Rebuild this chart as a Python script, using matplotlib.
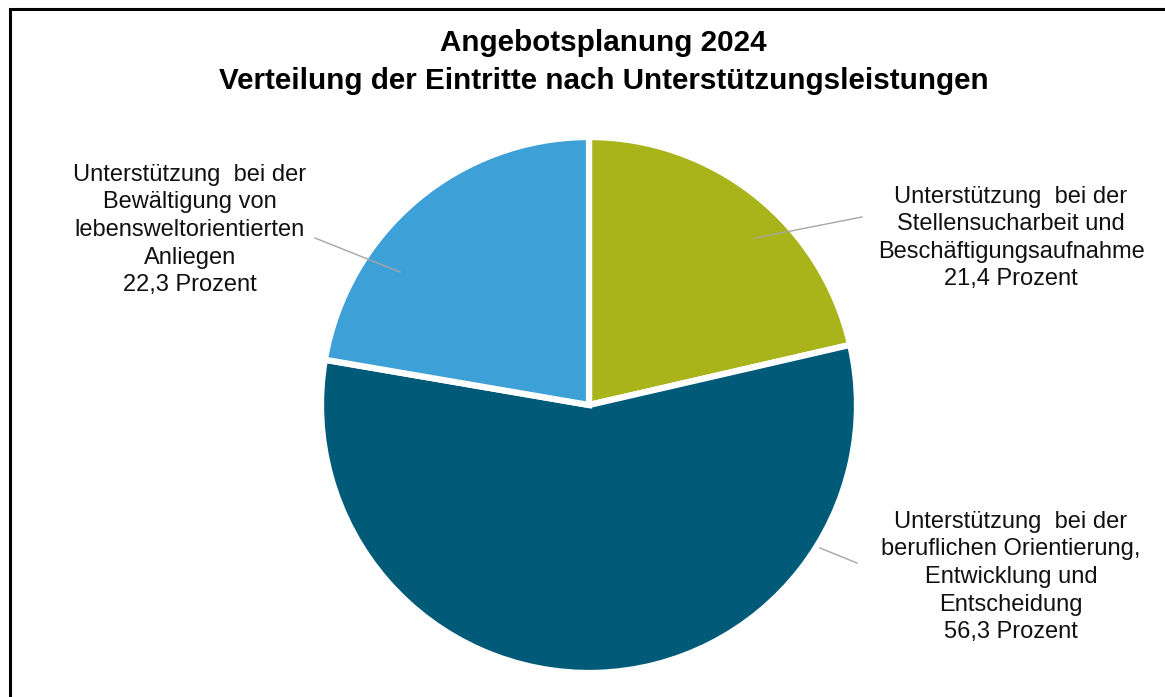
import matplotlib.pyplot as plt

# ==================== DATA ====================
CATEGORIES = [
    'Unterstützung  bei der\nStellensucharbeit und\nBeschäftigungsaufnahme',
    'Unterstützung  bei der\nberuflichen Orientierung,\nEntwicklung und\nEntscheidung',
    'Unterstützung  bei der\nBewältigung von\nlebensweltorientierten\nAnliegen',
]
SHARES = [21.4, 56.3, 22.3]
COLORS = ['#A9B41A', '#005A78', '#3DA0D7']
TITLE = 'Angebotsplanung 2024\nVerteilung der Eintritte nach Unterstützungsleistungen'

W, H = 1165, 697
plt.rcParams['font.family'] = ['Liberation Sans', 'DejaVu Sans']

fig = plt.figure(figsize=(W / 100, H / 100), dpi=100)
ax = fig.add_axes([0, 0, 1, 1])
ax.set_xlim(0, W)
ax.set_ylim(0, H)
ax.set_aspect('equal')
ax.axis('off')


def py(y):
    # pixel row (top-down) -> data y
    return H - y


# outer frame (only left and top visible)
ax.plot([10, 10, W + 5], [py(H + 5), py(9), py(9)], color='black', lw=2.2,
        solid_joinstyle='miter')

center = (589, py(405))
radius = 268
wedges, _ = ax.pie(SHARES, colors=COLORS, startangle=90, counterclock=False,
                   center=center, radius=radius,
                   wedgeprops=dict(edgecolor='white', linewidth=4.5))
ax.set_xlim(0, W)
ax.set_ylim(0, H)

ax.text(W / 2 + 21, py(62), TITLE, ha='center', va='center', fontsize=21.3,
        fontweight='bold', linespacing=1.42)

# label anchors (layout) and leader line ends
label_pos = [(1011, 238), (1011, 577), (190, 230)]
leaders = [((755, 238), (862, 217)), ((820, 548), (857, 563)), ((400, 272), (315, 238))]

for cat, val, (lx, ly), (p0, p1) in zip(CATEGORIES, SHARES, label_pos, leaders):
    txt = cat + '\n' + f'{val:.1f}'.replace('.', ',') + ' Prozent'
    ax.text(lx, py(ly), txt, ha='center', va='center', fontsize=17,
            linespacing=1.33, color='#111111')
    ax.plot([p0[0], p1[0]], [py(p0[1]), py(p1[1])], color='#a6a6a6', lw=1.0)

fig.savefig('out.png', dpi=100)
